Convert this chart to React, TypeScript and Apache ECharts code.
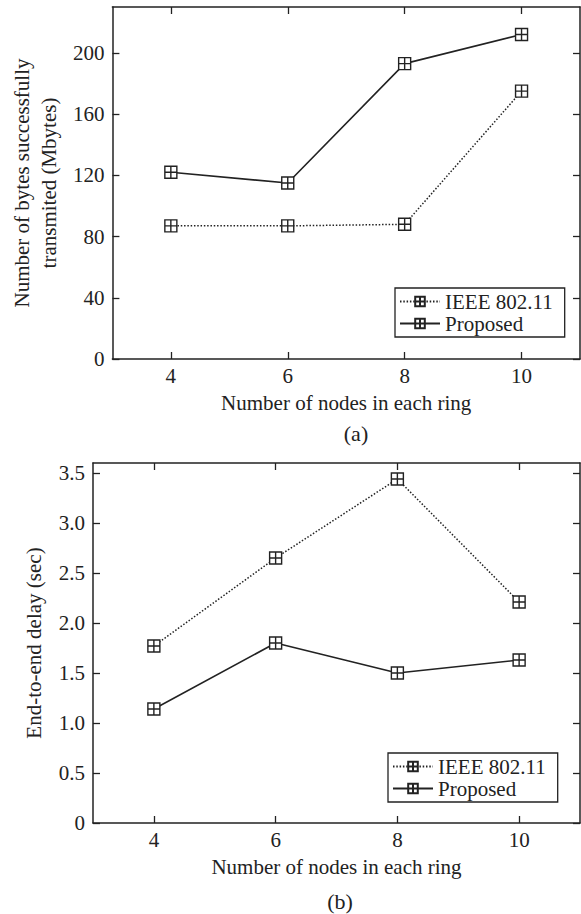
import React, { useEffect, useRef } from "react";
import * as echarts from "echarts";

const nodes = [4, 6, 8, 10];
const ieeeBytes = [87, 87, 88, 175];
const proposedBytes = [122, 115, 193, 212];
const ieeeDelay = [1.77, 2.65, 3.44, 2.21];
const proposedDelay = [1.14, 1.8, 1.5, 1.63];
const bytesTicks = [0, 40, 80, 120, 160, 200];
const delayTicks = [0, 0.5, 1, 1.5, 2, 2.5, 3, 3.5];
const seriesNames = ["IEEE 802.11", "Proposed"];

const FONT = "Liberation Serif";
const FS = 21;
const INK = "#222";
const SYMBOL = "path://M0,0L12,0L12,12L0,12Z M6,0L6,12 M0,6L12,6";

function pairs(xs: number[], ys: number[]) {
  return xs.map((x, i) => [x, ys[i]]);
}

function xAxes(grid: number, nameGap: number) {
  const base = {
    type: "value",
    gridIndex: grid,
    min: 3,
    max: 11,
    splitLine: { show: false },
    axisLine: { show: true, onZero: false, lineStyle: { color: INK, width: 1.5 } },
    axisTick: { show: true, inside: true, length: 7, customValues: nodes, lineStyle: { color: INK, width: 1.3 } },
  };
  return [
    {
      ...base,
      position: "bottom",
      name: "Number of nodes in each ring",
      nameLocation: "middle",
      nameGap,
      nameTextStyle: { fontFamily: FONT, fontSize: FS, color: INK },
      axisLabel: { show: true, customValues: nodes, margin: 6, fontFamily: FONT, fontSize: FS, color: INK },
    },
    { ...base, position: "top", axisLabel: { show: false } },
  ];
}

function yAxes(grid: number, max: number, ticks: number[], name: string, nameGap: number, fmt: (v: number) => string) {
  const base = {
    type: "value",
    gridIndex: grid,
    min: 0,
    max,
    splitLine: { show: false },
    axisLine: { show: true, onZero: false, lineStyle: { color: INK, width: 1.5 } },
    axisTick: { show: true, inside: true, length: 7, customValues: ticks, lineStyle: { color: INK, width: 1.3 } },
  };
  return [
    {
      ...base,
      position: "left",
      name,
      nameLocation: "middle",
      nameGap,
      nameTextStyle: { fontFamily: FONT, fontSize: FS, color: INK, lineHeight: 27 },
      axisLabel: { show: true, customValues: ticks, margin: 8, fontFamily: FONT, fontSize: FS, color: INK, formatter: fmt },
    },
    { ...base, position: "right", axisLabel: { show: false } },
  ];
}

function lineSeries(name: string, data: number[][], axisIdx: number, dotted: boolean) {
  return {
    type: "line",
    name,
    data,
    xAxisIndex: axisIdx,
    yAxisIndex: axisIdx,
    symbol: SYMBOL,
    symbolSize: 12,
    showAllSymbol: true,
    itemStyle: { color: "#fff", borderColor: INK, borderWidth: 1.4 },
    lineStyle: { color: INK, width: dotted ? 1.5 : 1.6, type: dotted ? [1.5, 1.8] : "solid" },
    emphasis: { disabled: true },
  };
}

function legend(left: number, top: number) {
  return {
    left,
    top,
    orient: "vertical",
    data: seriesNames,
    itemWidth: 40,
    itemHeight: 12,
    itemGap: 1,
    padding: [3, 12, 3, 4],
    borderColor: INK,
    borderWidth: 1.3,
    backgroundColor: "#fff",
    selectedMode: false,
    textStyle: { fontFamily: FONT, fontSize: FS, color: INK, lineHeight: 20, padding: [0, 0, 0, 0] },
  };
}

export default function App() {
  const ref = useRef<HTMLDivElement>(null);
  useEffect(() => {
    if (!ref.current) return;
    const chart = echarts.init(ref.current, null, { renderer: "svg" });
    const xa = [...xAxes(0, 33), ...xAxes(1, 33)];
    const ya = [
      ...yAxes(0, 230, bytesTicks, "Number of bytes successfully\ntransmited (Mbytes)", 48, (v) => String(v)),
      ...yAxes(1, 3.6, delayTicks, "End-to-end delay (sec)", 42, (v) => (v === 0 ? "0" : v.toFixed(1))),
    ];
    chart.setOption({
      animation: false,
      backgroundColor: "#fff",
      textStyle: { fontFamily: FONT },
      grid: [
        { left: 104, top: 7, width: 476, height: 352, containLabel: false },
        { left: 93, top: 463, width: 487, height: 360, containLabel: false },
      ],
      xAxis: xa,
      yAxis: ya,
      legend: [legend(395, 288), legend(388, 753)],
      series: [
        lineSeries(seriesNames[0], pairs(nodes, ieeeBytes), 0, true),
        lineSeries(seriesNames[1], pairs(nodes, proposedBytes), 0, false),
        lineSeries(seriesNames[0], pairs(nodes, ieeeDelay), 2, true),
        lineSeries(seriesNames[1], pairs(nodes, proposedDelay), 2, false),
      ],
      graphic: [
        { type: "text", x: 356, y: 433, style: { text: "(a)", fontFamily: FONT, fontSize: 22, fill: INK, align: "center", verticalAlign: "middle" } },
        { type: "text", x: 340, y: 901, style: { text: "(b)", fontFamily: FONT, fontSize: 22, fill: INK, align: "center", verticalAlign: "middle" } },
      ],
    });
    return () => chart.dispose();
  }, []);
  return (
    <div
      ref={ref}
      style={{ position: "absolute", left: 0, top: 0, width: 581, height: 914, background: "#fff" }}
    />
  );
}
